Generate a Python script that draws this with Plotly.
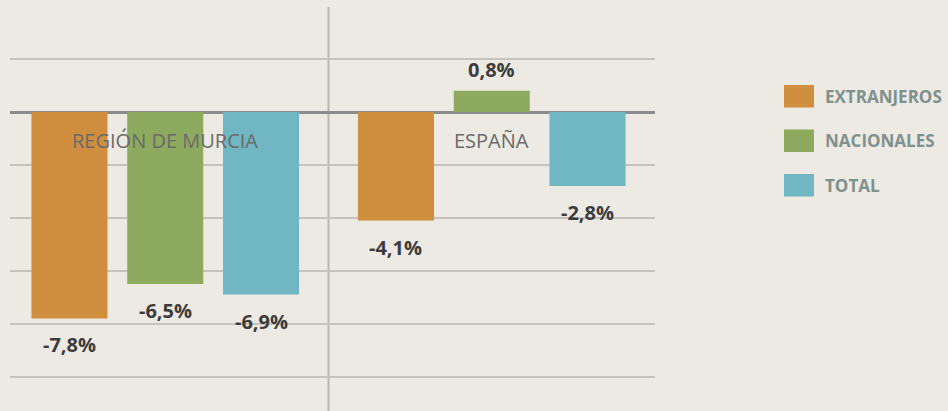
import plotly.graph_objects as go

categories = ["REGIÓN DE MURCIA", "ESPAÑA"]
series_names = ["EXTRANJEROS", "NACIONALES", "TOTAL"]
extranjeros = [-7.8, -4.1]
nacionales = [-6.5, 0.8]
total = [-6.9, -2.8]
series_values = [extranjeros, nacionales, total]
colors = ["#cf8f3e", "#8eaa5e", "#71b7c3"]

W, H = 948, 411
ML, MR, MT, MB = 10, 293, 7, 0
bargap = 0.12
bargroupgap = 0.206
y_range = [-11.30, 3.97]
x_range = [-0.4755, 1.5]

fig = go.Figure()
for name, vals, col in zip(series_names, series_values, colors):
    fig.add_trace(go.Bar(x=categories, y=vals, name=name, marker=dict(color=col, line=dict(width=0)),
                         showlegend=False, hoverinfo="skip"))

slot = (1 - bargap) / 3
annotations = []
for k, vals in enumerate(series_values):
    for i, v in enumerate(vals):
        annotations.append(dict(
            x=i + (k - 1) * slot, y=v, xref="x", yref="y",
            text=f"{v:.1f}".replace(".", ",") + "%", showarrow=False,
            yshift=-26.5 if v < 0 else 21.5,
            font=dict(family="Open Sans", size=20, color="#3c3c3c", weight="bold"),
        ))
for i, c in enumerate(categories):
    annotations.append(dict(
        x=i, y=0, xref="x", yref="y", text=c, showarrow=False, yshift=-28,
        font=dict(family="Open Sans", size=20, color="#6a6a6a"),
    ))

pw = W - ML - MR
ph = H - MT - MB
def px2x(px):
    return (px - ML) / pw
def py2y(py):
    return (H - MB - py) / ph

shapes = [dict(type="line", xref="x", yref="paper", x0=0.5, x1=0.5, y0=0, y1=1,
               line=dict(color="#b9b7b3", width=2), layer="below")]
for j, (name, col) in enumerate(zip(series_names, colors)):
    top = 85 + j * 44.5
    shapes.append(dict(type="rect", xref="paper", yref="paper",
                       x0=px2x(784), x1=px2x(814), y0=py2y(top + 22.5), y1=py2y(top),
                       fillcolor=col, line=dict(width=0)))
    annotations.append(dict(x=px2x(823), y=py2y(top + 11.2), xref="paper", yref="paper",
                            xanchor="left", yanchor="middle", text=name, showarrow=False,
                            font=dict(family="Open Sans", size=17, color="#7e918e", weight="bold")))

fig.update_layout(
    width=W, height=H,
    margin=dict(l=ML, r=MR, t=MT, b=MB, pad=0),
    paper_bgcolor="#ede9e3", plot_bgcolor="#ede9e3",
    barmode="group", bargap=bargap, bargroupgap=bargroupgap,
    xaxis=dict(type="category", range=x_range, showticklabels=False, showgrid=False,
               zeroline=False, showline=False, ticks=""),
    yaxis=dict(range=y_range, dtick=2, tick0=0, showticklabels=False, showgrid=True,
               gridcolor="#c6c3bf", gridwidth=1.5, zeroline=True, zerolinecolor="#8c8c8c",
               zerolinewidth=3, showline=False, ticks=""),
    shapes=shapes, annotations=annotations,
)
fig.write_html("out.html")
